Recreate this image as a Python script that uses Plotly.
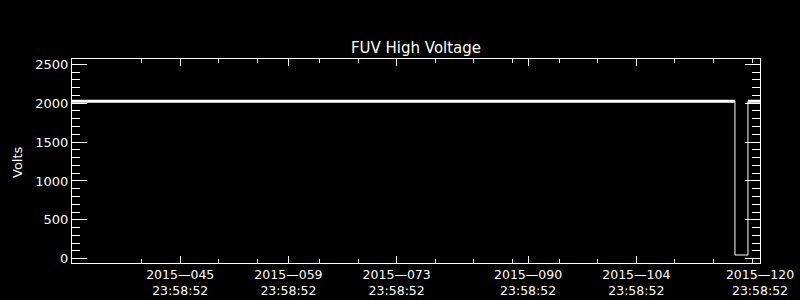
import plotly.graph_objects as go

# ---- data ----
times = ["2015-01-31 23:58:52", "2015-04-27 18:10:00", "2015-04-27 18:10:00",
         "2015-04-29 10:35:00", "2015-04-29 10:35:00", "2015-04-30 23:58:52"]
volts = [2025, 2025, 48, 48, 2025, 2025]

x_range = ["2015-01-31 23:58:52", "2015-04-30 23:58:52"]
major_ticks = ["2015-02-14 23:58:52", "2015-02-28 23:58:52", "2015-03-14 23:58:52",
               "2015-03-31 23:58:52", "2015-04-14 23:58:52", "2015-04-30 23:58:52"]
major_labels = ["2015\u2014045<br>23:58:52", "2015\u2014059<br>23:58:52",
                "2015\u2014073<br>23:58:52", "2015\u2014090<br>23:58:52",
                "2015\u2014104<br>23:58:52", "2015\u2014120<br>23:58:52"]
minor_ticks = ["2015-02-09 23:58:52", "2015-02-19 23:58:52", "2015-02-24 23:58:52",
               "2015-03-04 23:58:52", "2015-03-09 23:58:52", "2015-03-19 23:58:52",
               "2015-03-24 23:58:52", "2015-03-29 23:58:52", "2015-04-04 23:58:52",
               "2015-04-09 23:58:52", "2015-04-19 23:58:52", "2015-04-24 23:58:52",
               "2015-04-29 23:58:52"]
y_range = [-55, 2568]
y_ticks = [0, 500, 1000, 1500, 2000, 2500]

FONT = "DejaVu Sans"

fig = go.Figure()
# thin trace for the full record (including the dip)
fig.add_trace(go.Scatter(x=times, y=volts, mode="lines",
                         line=dict(color="white", width=1), hoverinfo="skip"))
# plateau drawn heavier (the dense nominal-level data band)
plateau = [v if v > 1000 else None for v in volts]
fig.add_trace(go.Scatter(x=times, y=plateau, mode="lines", connectgaps=False,
                         line=dict(color="white", width=3), hoverinfo="skip"))

fig.update_layout(
    width=800, height=300,
    margin=dict(l=72, r=40, t=59, b=37, autoexpand=False),
    paper_bgcolor="black", plot_bgcolor="black",
    showlegend=False,
    font=dict(family=FONT, color="white", size=13),
    title=dict(text="FUV High Voltage", x=0.5, xref="paper", xanchor="center",
               y=1 - 47.5 / 300, yref="container", yanchor="middle",
               font=dict(family=FONT, size=15, color="white")),
    xaxis=dict(type="date", range=x_range, showgrid=False, zeroline=False,
               automargin=False,
               showline=True, linecolor="white", linewidth=1, mirror="allticks",
               ticks="inside", ticklen=7, tickwidth=1, tickcolor="white",
               tickmode="array", tickvals=major_ticks, ticktext=major_labels,
               tickfont=dict(family=FONT, size=12.5, color="white"),
               minor=dict(tickmode="array", tickvals=minor_ticks, ticks="inside",
                          ticklen=4, tickwidth=1, tickcolor="white", showgrid=False)),
    yaxis=dict(range=y_range, showgrid=False, zeroline=False,
               automargin=False,
               showline=True, linecolor="white", linewidth=1, mirror="allticks",
               ticks="inside", ticklen=15, tickwidth=1, tickcolor="white",
               tickmode="array", tickvals=y_ticks,
               tickfont=dict(family=FONT, size=13, color="white"),
               minor=dict(tickmode="linear", tick0=0, dtick=100, ticks="inside",
                          ticklen=8, tickwidth=1, tickcolor="white", showgrid=False)),
    annotations=[dict(text="Volts", textangle=-90, showarrow=False,
                      xref="paper", yref="paper",
                      x=(17 - 72) / 688, y=(263 - 162) / 204,
                      xanchor="center", yanchor="middle",
                      font=dict(family=FONT, size=13, color="white"))],
)

fig.write_html("out.html")
